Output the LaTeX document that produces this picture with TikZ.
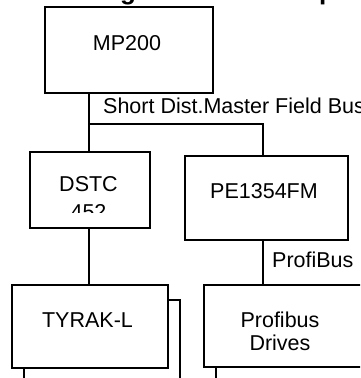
\documentclass[tikz,border=0pt]{standalone}
\usepackage{fontspec}
\setmainfont{Liberation Sans}
\begin{document}
\begin{tikzpicture}[x=1pt,y=-1pt,
  box/.style={draw,line width=1.8pt,minimum width=#1,inner sep=0pt},
  lbl/.style={inner sep=0pt,anchor=base,font=\fontsize{21.5}{25}\selectfont},
  lblw/.style={inner sep=0pt,anchor=base west,font=\fontsize{21.5}{25}\selectfont},
  ttl/.style={inner sep=0pt,anchor=base,font=\fontsize{26}{30}\selectfont\bfseries},
  conn/.style={line width=1.8pt}]
\useasboundingbox (0,0) rectangle (360,378);
\clip (0,0) rectangle (360,378);
% title fragments (cut off at the top edge, as in the reference)
\node[ttl] (tg) at (128,-1) {g};
\node[ttl] (tp) at (327,-0.5) {p};
% boxes
\node[box=168pt,minimum height=86pt] (mp) at (129,50) {};
\node[box=120pt,minimum height=76pt] (dstc) at (90,190) {};
\node[box=163pt,minimum height=84pt] (pe) at (266.5,198) {};
\node[box=156pt,minimum height=83pt] (ty) at (90,326.5) {};
\node[box=166pt,minimum height=82pt] (pd) at (287,326) {};
% texts
\node[lbl] (tmp) at (127,50) {MP200};
\node[lbl] (tdstc) at (88.5,191) {DSTC};
\begin{scope}
\clip (31,152) rectangle (149,212);
\node[lbl] (t452) at (88.5,219) {452};
\end{scope}
\node[lbl] (tpe) at (264,198) {PE1354FM};
\node[lbl] (tty) at (87.5,327) {TYRAK-L};
\node[lbl] (tpd1) at (280,327) {Profibus};
\node[lbl] (tpd2) at (280,350) {Drives};
\node[lblw] (sdm) at (103,113) {Short Dist.Master Field Bus};
\node[lblw] (pb) at (272,267) {ProfiBus};
% connectors
\coordinate (j1) at (89,124);
\coordinate (j2) at (263,124);
\coordinate (sh) at (180,300);
\coordinate (b1) at (24,382);
\coordinate (b3) at (216,382);
\draw[conn] (mp.south -| j1) -- (j1) -- (dstc.north -| j1);
\draw[conn] (j1) -- (j2) -- (pe.north -| j2);
\draw[conn] (dstc.south -| j1) -- (ty.north -| j1);
\draw[conn] (pe.south -| j2) -- (pd.north -| j2);
\draw[conn] (ty.south -| b1) -- (b1);
\draw[conn] (ty.east |- sh) -- (sh) -- (sh |- b1);
\draw[conn] (pd.south -| b3) -- (b3);
\end{tikzpicture}
\end{document}
